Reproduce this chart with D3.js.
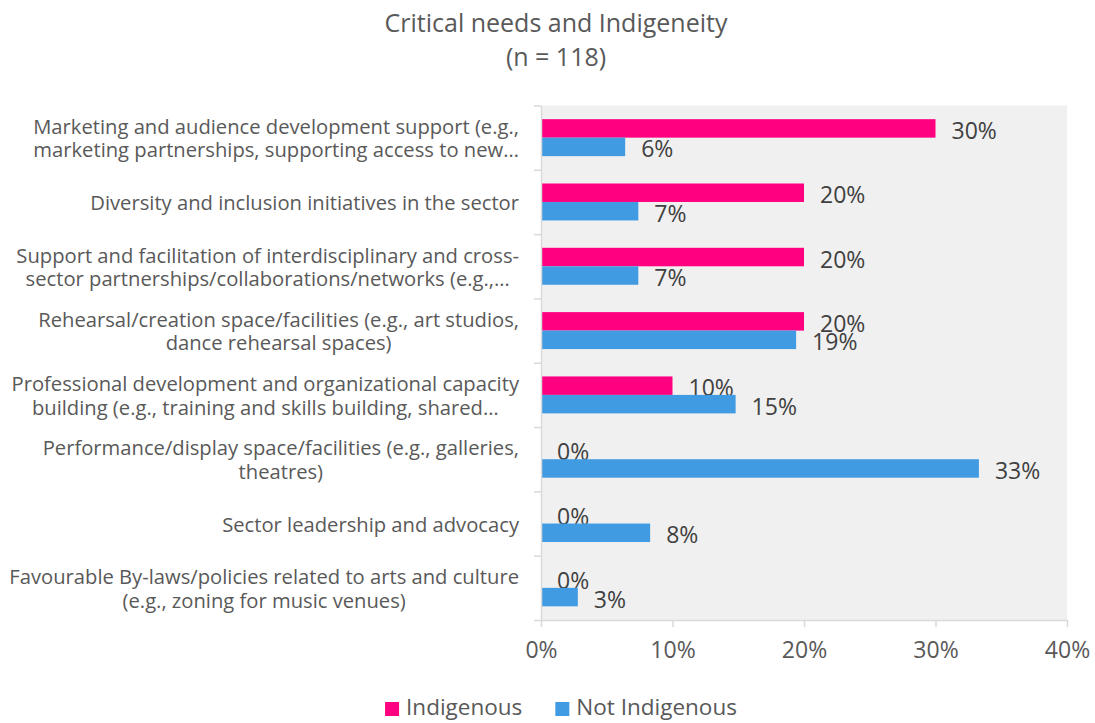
<!DOCTYPE html>
<html>
<head>
<meta charset="utf-8">
<script src="https://cdn.jsdelivr.net/npm/d3@7"></script>
<style>
  body { margin: 0; background: #fff; }
  svg { display: block; }
  text { font-family: "Open Sans", sans-serif; }
</style>
</head>
<body>
<svg id="chart" width="1095" height="723"></svg>
<script>
// ---- data ----
const titleLines = ["Critical needs and Indigeneity", "(n = 118)"];

// "|" marks a line break in a category label
const categories = [
  "Marketing and audience development support (e.g.,|marketing partnerships, supporting access to new…",
  "Diversity and inclusion initiatives in the sector",
  "Support and facilitation of interdisciplinary and cross-|sector partnerships/collaborations/networks (e.g.,…",
  "Rehearsal/creation space/facilities (e.g., art studios,|dance rehearsal spaces)",
  "Professional development and organizational capacity|building (e.g., training and skills building, shared…",
  "Performance/display space/facilities (e.g., galleries,|theatres)",
  "Sector leadership and advocacy",
  "Favourable By-laws/policies related to arts and culture|(e.g., zoning for music venues)"
];

const seriesNames = ["Indigenous", "Not Indigenous"];
const indigenous = [30, 20, 20, 20, 10, 0, 0, 0];
const notIndigenous = [6.4, 7.4, 7.4, 19.4, 14.8, 33.3, 8.3, 2.8];
const xTicks = [0, 10, 20, 30, 40];

// ---- styling ----
const colors = { "Indigenous": "#ff0080", "Not Indigenous": "#409be3" };
const textColor = "#595959";
const labelColor = "#404040";
const axisColor = "#d9d9d9";

const svg = d3.select("#chart");

const plot = { left: 541, right: 1067, top: 105.5, bottom: 620 };

const x = d3.scaleLinear().domain([0, 40]).range([plot.left, plot.right]);
const y = d3.scaleBand()
  .domain(d3.range(categories.length))
  .range([plot.top, plot.bottom])
  .padding(0);
const ySub = d3.scaleBand()
  .domain(seriesNames)
  .range([0, y.bandwidth()])
  .paddingInner(0)
  .paddingOuter(0.74);
// band edges, used for the category separator ticks
const yEdge = d3.scaleLinear().domain([0, categories.length]).range([plot.top, plot.bottom]);

const seriesValues = { "Indigenous": indigenous, "Not Indigenous": notIndigenous };

// plot background
svg.append("rect")
  .attr("x", plot.left).attr("y", plot.top)
  .attr("width", plot.right - plot.left)
  .attr("height", plot.bottom - plot.top)
  .attr("fill", "#f0f0f0");

// title
svg.append("g").selectAll("text")
  .data(titleLines)
  .join("text")
  .attr("x", 556)
  .attr("y", (d, i) => 32 + i * 34)
  .attr("text-anchor", "middle")
  .attr("fill", textColor)
  .attr("font-size", 25)
  .text(d => d);

// bars
const rows = categories.map((c, i) => ({ i, c }));
seriesNames.forEach(s => {
  const g = svg.append("g");
  g.selectAll("rect")
    .data(rows)
    .join("rect")
    .attr("x", x(0))
    .attr("y", d => y(d.i) + ySub(s))
    .attr("width", d => x(seriesValues[s][d.i]) - x(0))
    .attr("height", ySub.bandwidth())
    .attr("fill", colors[s]);

  g.selectAll("text")
    .data(rows)
    .join("text")
    .attr("x", d => x(seriesValues[s][d.i]) + 16)
    .attr("y", d => y(d.i) + ySub(s) + ySub.bandwidth() / 2 + 1.5)
    .attr("dominant-baseline", "central")
    .attr("fill", labelColor)
    .attr("font-size", 23)
    .text(d => d3.format(".0f")(seriesValues[s][d.i]) + "%");
});

// x axis
const xAxis = svg.append("g")
  .attr("transform", `translate(0,${plot.bottom})`)
  .call(d3.axisBottom(x).tickValues(xTicks).tickSize(7).tickSizeOuter(0)
    .tickPadding(15).tickFormat(d => d + "%"));
xAxis.select(".domain").attr("stroke", axisColor).attr("stroke-width", 1.5);
xAxis.selectAll(".tick line").attr("stroke", axisColor).attr("stroke-width", 1.5);
xAxis.selectAll(".tick text")
  .attr("fill", textColor)
  .attr("font-size", 23)
  .attr("font-family", "Open Sans, sans-serif");

// y axis: separator ticks at band edges
const yAxis = svg.append("g")
  .attr("transform", `translate(${plot.left},0)`)
  .call(d3.axisLeft(yEdge).tickValues(d3.range(categories.length + 1))
    .tickSize(7).tickSizeOuter(0).tickFormat(""));
yAxis.select(".domain").attr("stroke", axisColor).attr("stroke-width", 1.5);
yAxis.selectAll(".tick line").attr("stroke", axisColor).attr("stroke-width", 1.5);

// category labels: block right-aligned, lines centred within the block
const catSize = 20.2;
const lineGap = 23.5;
const labelRight = 519;
const catG = svg.append("g");
categories.forEach((c, i) => {
  const lines = c.split("|");
  const cy = y(i) + y.bandwidth() / 2;
  const texts = lines.map((ln, k) => catG.append("text")
    .attr("font-size", catSize)
    .attr("fill", textColor)
    .attr("text-anchor", "middle")
    .attr("dominant-baseline", "central")
    .attr("y", cy + (k - (lines.length - 1) / 2) * lineGap)
    .text(ln));
  const blockW = d3.max(texts, t => t.node().getComputedTextLength());
  texts.forEach(t => t.attr("x", labelRight - blockW / 2));
});

// legend
const legend = svg.append("g");
const sq = 14, sqGap = 7, itemGap = 33, legendCenter = 561, legendBase = 715;
let items = seriesNames.map(s => {
  const t = legend.append("text")
    .attr("font-size", 22.5)
    .attr("fill", textColor)
    .attr("y", legendBase)
    .text(s);
  return { s, t, w: t.node().getComputedTextLength() };
});
const totalW = d3.sum(items, d => sq + sqGap + d.w) + itemGap * (items.length - 1);
let cx = legendCenter - totalW / 2;
items.forEach(d => {
  legend.append("rect")
    .attr("x", cx).attr("y", legendBase - sq + 1)
    .attr("width", sq).attr("height", sq)
    .attr("fill", colors[d.s]);
  d.t.attr("x", cx + sq + sqGap);
  cx += sq + sqGap + d.w + itemGap;
});
</script>
</body>
</html>
